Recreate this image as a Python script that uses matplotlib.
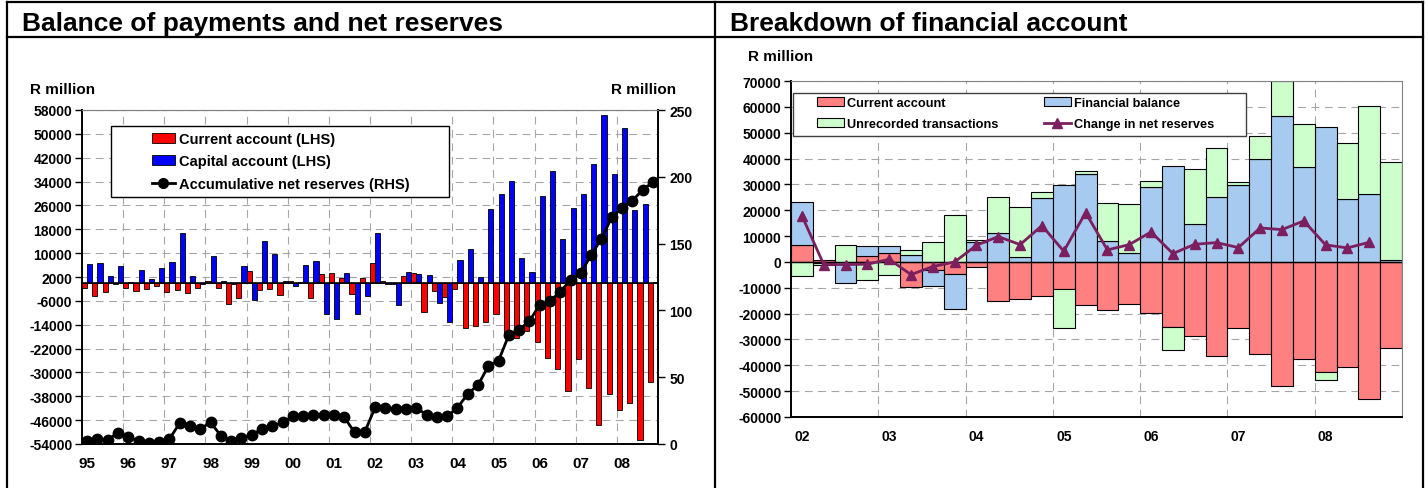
import numpy as np
import matplotlib
matplotlib.use("Agg")
import matplotlib.pyplot as plt
from matplotlib.patches import Rectangle, Patch
from matplotlib.lines import Line2D

plt.rcParams["font.family"] = ["Liberation Sans", "DejaVu Sans"]
plt.rcParams["font.weight"] = "bold"

# ============================================================
# data
# ============================================================
# left: quarterly 1995Q1 - 2008Q4
years_left = ["95", "96", "97", "98", "99", "00", "01",
              "02", "03", "04", "05", "06", "07", "08"]

current_lhs = [
    -1790, -4250, -2900, -300, -1790, -2800, -1900, -900,
    -2900, -2240, -3350, -1790, 560, -1790, -7040, -5030,
    4020, -2460, -2010, -3910, 780, 200, -5030, 3020,
    3240, 1680, -3690, 1680, 6600, 780, -200, 2350,
    3470, -9620, -2680, -4810, -2010, -15200, -14310, -13080,
    -10400, -16880, -18560, -16210, -19900, -25150, -28840, -36110,
    -25600, -35220, -47740, -37230, -42480, -40250, -52660, -33090,
]
capital_lhs = [
    6260, 6710, 2240, 5590, 200, 4250, 1230, 4920,
    7160, 16880, 2460, -300, 8940, 560, -300, 5590,
    -5590, 14200, 9730, 780, -1120, 6150, 7270, -10290,
    -12190, 3350, -10290, -4250, 16880, -450, -7490, 3800,
    2900, 2570, -6820, -13190, 7830, 11290, 2010, 24710,
    29740, 34100, 8390, 3580, 29070, 37450, 14650, 25270,
    29960, 39910, 56460, 36450, 52100, 24480, 26500, 340,
]
reserves_rhs = [
    2.5, 3.7, 3.0, 8.6, 5.5, 2.0, 0.6, 1.5,
    3.8, 15.6, 13.7, 11.3, 16.2, 6.2, 2.0, 4.6,
    7.0, 11.1, 13.2, 16.1, 20.6, 21.2, 21.7, 21.7,
    21.7, 20.0, 8.7, 9.2, 27.4, 27.0, 26.4, 26.0,
    27.0, 22.0, 20.5, 20.7, 27.2, 37.4, 44.2, 58.1,
    62.4, 81.6, 85.6, 92.0, 104.3, 107.0, 114.0, 122.8,
    128.2, 141.5, 153.5, 169.7, 176.6, 182.1, 190.1, 196.1,
]

# right: quarterly 2002Q1 - 2008Q4
years_right = ["02", "03", "04", "05", "06", "07", "08"]

ca_right = [
    6450, 800, -200, 2200, 3360, -9800, -3000, -4770,
    -1930, -15220, -14450, -13150, -10570, -16640, -18700, -16250,
    -19860, -25270, -28750, -36370, -25660, -35460, -47980, -37530,
    -42680, -40500, -53000, -33390,
]
fb_right = [
    16800, -500, -7800, 3860, 2960, 2580, -6400, -13400,
    7740, 11090, 1930, 24640, 29660, 33930, 8240, 3600,
    29020, 37260, 14580, 25270, 29790, 39850, 56370, 36640,
    52110, 24260, 26310, 650,
]
ut_right = [
    -5400, -600, 6700, -7100, -5030, 2060, 7740, 18060,
    900, 13930, 19220, 2320, -14840, 1270, 14700, 18960,
    2320, -8780, 21280, 18720, 1280, 8780, 13600, 16750,
    -2970, 21660, 34160, 38150,
]
chg_right = [
    17900, -1000, -1000, -900, 1030, -4900, -1800, 0,
    6450, 9800, 6700, 14050, 4130, 19080, 4640, 6700,
    11600, 3220, 6830, 7480, 5550, 13150, 12500, 15860,
    6580, 5420, 7610, np.nan,
]

# ============================================================
# layout (pixel based)
# ============================================================
W, H = 1428, 489
DPI = 100
fig = plt.figure(figsize=(W / DPI, H / DPI), dpi=DPI)


def fx(px):
    return px / W


def fy(py):
    return 1 - py / H


GRID = dict(color="#A6A6A6", lw=0.8, linestyle=(0, (7, 5)), zorder=0.5)


def style_axes(ax):
    for s in ["left", "bottom"]:
        ax.spines[s].set_color("black")
        ax.spines[s].set_linewidth(1.4)
    for s in ["top", "right"]:
        ax.spines[s].set_color("#808080")
        ax.spines[s].set_linewidth(0.8)


def stack_bottoms(series_list):
    n = len(series_list[0])
    pos = np.zeros(n)
    neg = np.zeros(n)
    out = []
    for s in series_list:
        s = np.asarray(s, float)
        out.append(np.where(s >= 0, pos, neg))
        pos = pos + np.clip(s, 0, None)
        neg = neg + np.clip(s, None, 0)
    return out


# ============================================================
# left panel
# ============================================================
ax1 = fig.add_axes([fx(82), fy(445), fx(658) - fx(82), fy(111) - fy(445)])
n_l = len(current_lhs)
xl = np.arange(n_l)

ax1.set_xlim(-0.5, n_l - 0.5)
ax1.set_ylim(-54000, 58000)
yt = np.arange(-54000, 58001, 8000)
ax1.set_yticks(yt)
ax1.set_yticklabels([f"{v:d}" for v in yt])
for v in yt:
    ax1.axhline(v, **GRID)
for k in range(1, len(years_left)):
    ax1.axvline(4 * k - 0.5, **GRID)

ax1.bar(xl - 0.25, current_lhs, width=0.5, color="#FF0000",
        edgecolor="black", linewidth=0.6, zorder=2)
ax1.bar(xl + 0.25, capital_lhs, width=0.5, color="#0000FF",
        edgecolor="black", linewidth=0.6, zorder=2)
ax1.axhline(0, color="black", lw=1.2, zorder=3)

ax1.set_xticks(xl[::4])
ax1.set_xticklabels(years_left)
ax1.tick_params(axis="x", length=0, pad=9, labelsize=11)
ax1.tick_params(axis="y", length=5, width=1, pad=2, labelsize=10)
style_axes(ax1)

ax2 = ax1.twinx()
ax2.set_ylim(0, 250)
ax2.set_yticks(np.arange(0, 251, 50))
ax2.plot(xl, reserves_rhs, color="black", lw=2, marker="o", ms=7.5,
         zorder=4)
ax2.tick_params(axis="y", length=5, width=1, pad=3, labelsize=10)
ax2.spines["right"].set_color("black")
ax2.spines["right"].set_linewidth(1.4)
ax2.spines["top"].set_color("#808080")
ax2.spines["top"].set_linewidth(0.8)
ax2.spines["left"].set_visible(False)
ax2.spines["bottom"].set_visible(False)

# legend with Excel-like wide box
box = Rectangle((fx(111), fy(198)), fx(449) - fx(111), fy(127) - fy(198),
                transform=fig.transFigure, facecolor="white",
                edgecolor="black", lw=1, zorder=9)
ax2.add_artist(box)
h_left = [
    Patch(facecolor="#FF0000", edgecolor="black", lw=0.6),
    Patch(facecolor="#0000FF", edgecolor="black", lw=0.6),
    Line2D([], [], color="black", lw=2, marker="o", ms=7),
]
lab_left = ["Current account (LHS)", "Capital account (LHS)",
            "Accumulative net reserves (RHS)"]
leg = ax2.legend(h_left, lab_left, loc="upper left",
                 bbox_to_anchor=(fx(152), fy(133)),
                 bbox_transform=fig.transFigure, frameon=False,
                 borderpad=0, borderaxespad=0, handlelength=1.55,
                 handleheight=0.68, handletextpad=0.3, labelspacing=0.58,
                 prop=dict(size=10.5, weight="bold"))
leg.set_zorder(10)

fig.text(fx(30), fy(90), "R million", fontsize=11, weight="bold",
         ha="left", va="center")
fig.text(fx(676), fy(90), "R million", fontsize=11, weight="bold",
         ha="right", va="center")

# ============================================================
# right panel
# ============================================================
ax3 = fig.add_axes([fx(791), fy(418), fx(1402) - fx(791), fy(82) - fy(418)])
n_r = len(ca_right)
xr = np.arange(n_r)

ax3.set_xlim(-0.5, n_r - 0.5)
ax3.set_ylim(-60000, 70000)
yt3 = np.arange(-60000, 70001, 10000)
ax3.set_yticks(yt3)
ax3.set_yticklabels([f"{v:d}" for v in yt3])
for v in yt3:
    ax3.axhline(v, **GRID)
for k in range(1, len(years_right)):
    ax3.axvline(4 * k - 0.5, **GRID)

series_r = [ca_right, fb_right, ut_right]
colors_r = ["#FF8080", "#A6CAF0", "#CCFFCC"]
for s, b, c in zip(series_r, stack_bottoms(series_r), colors_r):
    ax3.bar(xr, s, bottom=b, width=1.0, color=c, edgecolor="black",
            linewidth=0.8, zorder=2)
ax3.axhline(0, color="black", lw=1, zorder=3)
ax3.plot(xr, chg_right, color="#7B1F5E", lw=2, marker="^", ms=7.5,
         zorder=4)

ax3.set_xticks(xr[::4])
ax3.set_xticklabels(years_right)
ax3.tick_params(axis="x", length=0, pad=9, labelsize=10)
ax3.tick_params(axis="y", length=5, width=1, pad=2, labelsize=10)
style_axes(ax3)

box3 = Rectangle((fx(793), fy(137)), fx(1246) - fx(793), fy(94) - fy(137),
                 transform=fig.transFigure, facecolor="white",
                 edgecolor="#404040", lw=1, zorder=9)
ax3.add_artist(box3)
leg_kw = dict(loc="upper left", bbox_transform=fig.transFigure,
              frameon=False, borderpad=0, borderaxespad=0,
              handlelength=2.1, handleheight=0.7, handletextpad=0.25,
              labelspacing=0.72, prop=dict(size=9.2, weight="bold"))
leg_a = ax3.legend(
    [Patch(facecolor=colors_r[0], edgecolor="black", lw=0.8),
     Patch(facecolor=colors_r[2], edgecolor="black", lw=0.8)],
    ["Current account", "Unrecorded transactions"],
    bbox_to_anchor=(fx(817), fy(98)), **leg_kw)
leg_a.set_zorder(10)
ax3.add_artist(leg_a)
leg_b = ax3.legend(
    [Patch(facecolor=colors_r[1], edgecolor="black", lw=0.8),
     Line2D([], [], color="#7B1F5E", lw=2, marker="^", ms=7)],
    ["Financial balance", "Change in net reserves"],
    bbox_to_anchor=(fx(1044), fy(98)), **leg_kw)
leg_b.set_zorder(10)

fig.text(fx(748), fy(57), "R million", fontsize=11, weight="bold",
         ha="left", va="center")

# ============================================================
# panel frame and titles
# ============================================================
FRAME = dict(color="black", lw=1.6, transform=fig.transFigure)
fig.add_artist(Line2D([fx(7), fx(7)], [fy(3), fy(489)], **FRAME))
fig.add_artist(Line2D([fx(1423), fx(1423)], [fy(3), fy(489)], **FRAME))
fig.add_artist(Line2D([fx(715), fx(715)], [fy(3), fy(489)], **FRAME))
fig.add_artist(Line2D([fx(7), fx(1423)], [fy(3), fy(3)], **FRAME))
fig.add_artist(Line2D([fx(7), fx(1423)], [fy(38), fy(38)], **FRAME))

fig.text(fx(22), fy(31), "Balance of payments and net reserves",
         fontsize=19, weight="bold", ha="left", va="baseline")
fig.text(fx(730), fy(31), "Breakdown of financial account",
         fontsize=19, weight="bold", ha="left", va="baseline")

fig.savefig("out.png", dpi=DPI)
